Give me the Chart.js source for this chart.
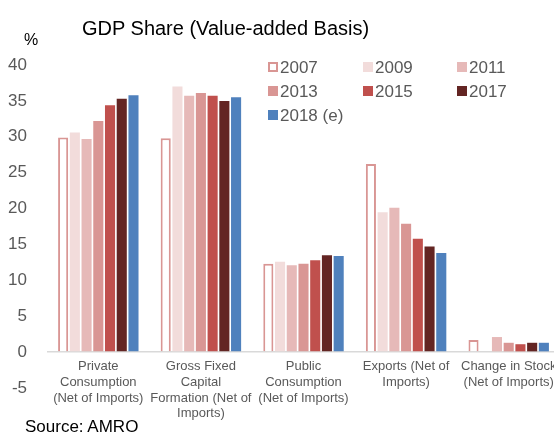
<!DOCTYPE html>
<html>
<head>
<meta charset="utf-8">
<script src="https://cdn.jsdelivr.net/npm/chart.js@4/dist/chart.umd.min.js"></script>
<style>
  body { margin: 0; overflow: hidden; background: #fff; font-family: "Liberation Sans", Arial, sans-serif; }
  #wrap { position: relative; width: 554px; height: 433px; overflow: hidden; }
  canvas { position: absolute; left: 0; top: 0; }
  .txt { position: absolute; white-space: nowrap; line-height: 1; }
  .leg { position: absolute; font-size: 17px; color: #595959; line-height: 1; white-space: nowrap; }
  .leg i { position: absolute; left: 0; top: 3px; width: 10px; height: 10px; box-sizing: border-box; }
  .leg span { position: absolute; left: 12px; top: 0; white-space: nowrap; }
</style>
</head>
<body>
<div id="wrap">
  <canvas id="c" width="560" height="433"></canvas>
  <div class="txt" style="left:82px;top:18px;font-size:20px;color:#000;">GDP Share (Value-added Basis)</div>
  <div class="txt" style="left:24px;top:32px;font-size:16px;color:#000;">%</div>
  <div class="txt" style="left:25px;top:418px;font-size:17px;color:#000;">Source: AMRO</div>
  <div id="legend"></div>
</div>
<script>
const categories = [
    ['Private', 'Consumption', '(Net of Imports)'],
    ['Gross Fixed', 'Capital', 'Formation (Net of', 'Imports)'],
    ['Public', 'Consumption', '(Net of Imports)'],
    ['Exports (Net of', 'Imports)'],
    ['Change in Stock', '(Net of Imports)']
];

const years = ['2007', '2009', '2011', '2013', '2015', '2017', '2018 (e)'];

const v2007 = [29.9, 29.8, 12.3, 26.2, 1.7];
const v2009 = [30.6, 37.0, 12.6, 19.5, null];
const v2011 = [29.7, 35.7, 12.1, 20.1, 2.1];
const v2013 = [32.2, 36.1, 12.3, 17.9, 1.3];
const v2015 = [34.4, 35.7, 12.8, 15.8, 1.1];
const v2017 = [35.3, 35.0, 13.5, 14.7, 1.3];
const v2018 = [35.8, 35.5, 13.4, 13.8, 1.3];

const yTicks = [-5, 0, 5, 10, 15, 20, 25, 30, 35, 40];

const seriesValues = [v2007, v2009, v2011, v2013, v2015, v2017, v2018];
const fills = ['#ffffff', '#f2dcdb', '#e6b9b8', '#d99694', '#c0504d', '#632523', '#4f81bd'];
const pink = '#d99694';

const datasets = years.map((y, i) => ({
    label: y,
    data: seriesValues[i],
    backgroundColor: fills[i],
    borderColor: i === 0 ? pink : fills[i],
    borderWidth: i === 0 ? 2 : 0,
    categoryPercentage: 0.8,
    barPercentage: 0.86
}));

// legend laid out in a 3 column grid like the original
const legendPos = [[268, 59], [363, 59], [457, 59], [268, 83], [363, 83], [457, 83], [268, 107]];
const legend = document.getElementById('legend');
years.forEach((y, i) => {
    const d = document.createElement('div');
    d.className = 'leg';
    d.style.left = legendPos[i][0] + 'px';
    d.style.top = legendPos[i][1] + 'px';
    const box = i === 0
        ? `background:#fff;border:2px solid ${pink};`
        : `background:${fills[i]};`;
    d.innerHTML = `<i style="${box}"></i><span>${y}</span>`;
    legend.appendChild(d);
});

Chart.defaults.font.family = '"Liberation Sans", Arial, sans-serif';

new Chart(document.getElementById('c').getContext('2d'), {
    type: 'bar',
    data: { labels: categories, datasets: datasets },
    options: {
        responsive: false,
        animation: false,
        layout: { padding: { top: 65, bottom: 45, left: 0, right: 0 } },
        plugins: { legend: { display: false }, tooltip: { enabled: false } },
        scales: {
            x: {
                position: { y: 0 },
                grid: { display: false, drawTicks: false },
                border: { display: false },
                afterFit: axis => { axis.paddingLeft = 0; axis.paddingRight = 0; },
                ticks: {
                    color: '#595959',
                    padding: 7,
                    maxRotation: 0,
                    autoSkip: false,
                    font: { size: 13, lineHeight: 1.2 }
                }
            },
            y: {
                min: -5,
                max: 40,
                afterBuildTicks: axis => { axis.ticks = yTicks.map(v => ({ value: v })); },
                afterFit: axis => { axis.width = 47; },
                grid: {
                    drawTicks: false,
                    color: ctx => (ctx.tick && ctx.tick.value === 0) ? '#d9d9d9' : 'rgba(0,0,0,0)',
                    lineWidth: 1.5
                },
                border: { display: false },
                ticks: {
                    color: '#595959',
                    padding: 20,
                    font: { size: 17 }
                }
            }
        }
    }
});
</script>
</body>
</html>
